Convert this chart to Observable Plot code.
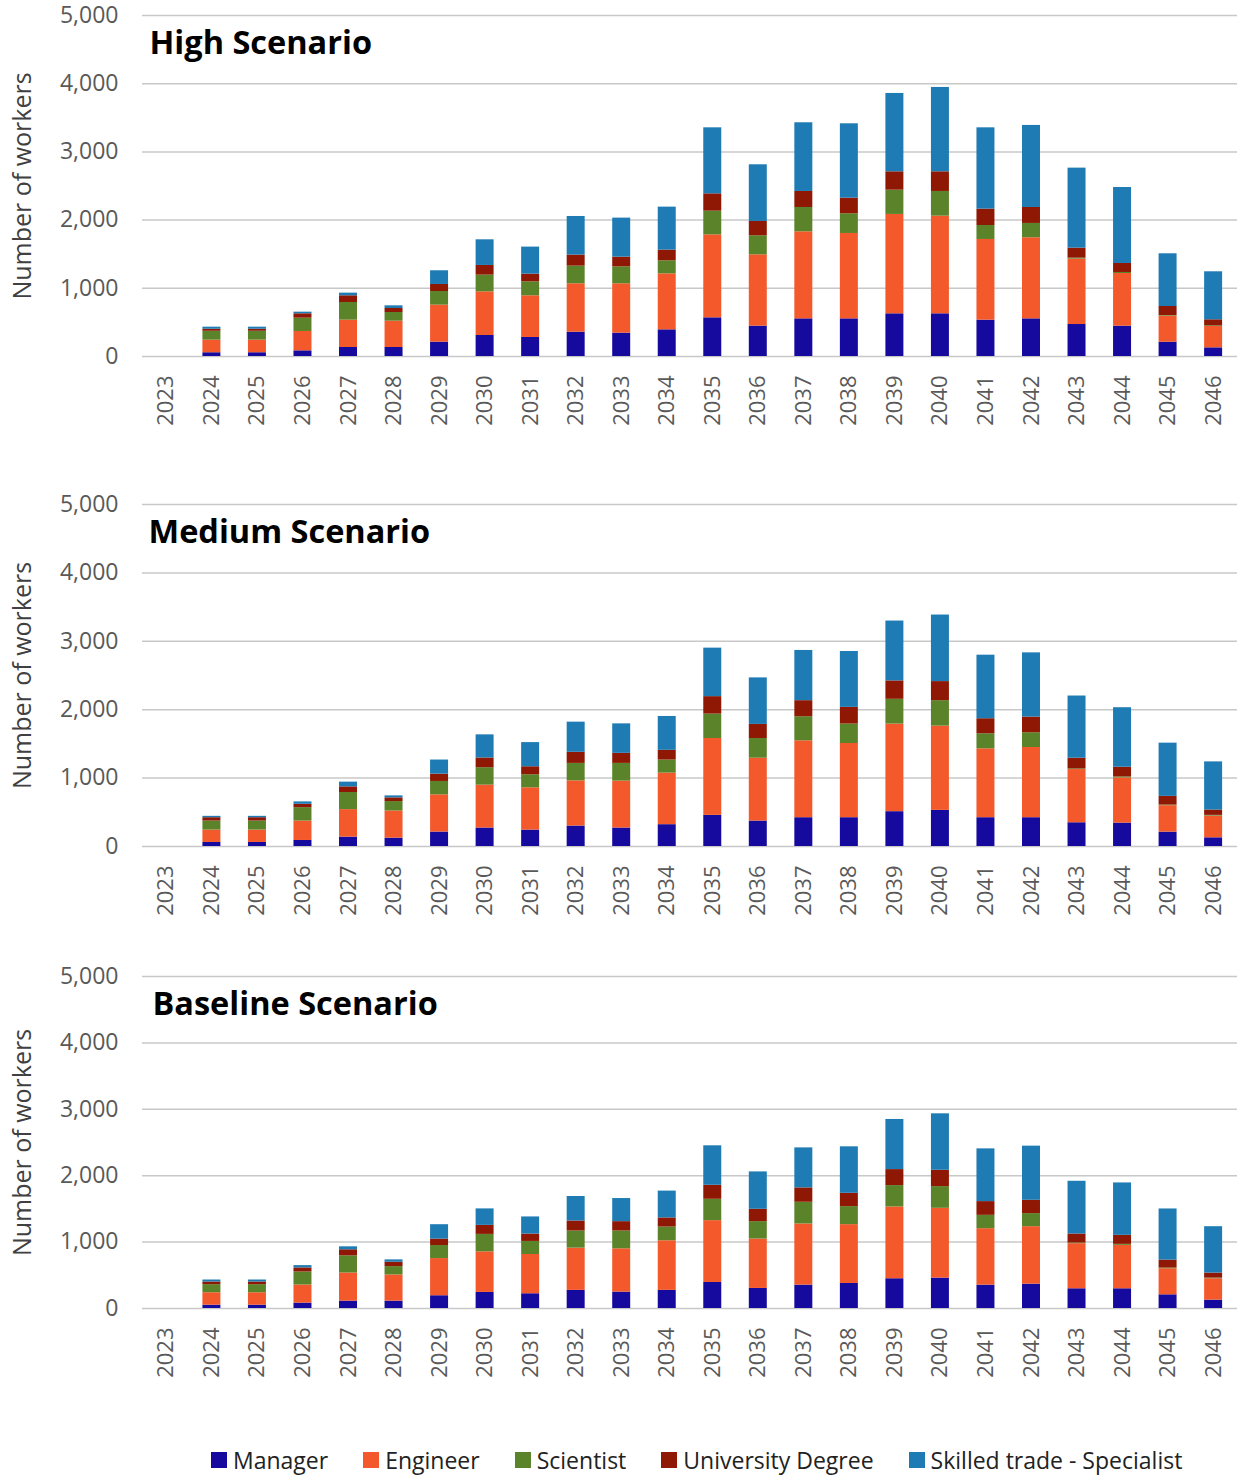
<!DOCTYPE html>
<html>
<head>
<meta charset="utf-8">
<script src="https://cdn.jsdelivr.net/npm/d3@7"></script>
<script src="https://cdn.jsdelivr.net/npm/@observablehq/plot@0.6"></script>
<style>
  body { margin: 0; background: #fff; font-family: "Open Sans", sans-serif; }
  #chart { width: 1244px; }
  #chart svg { display: block; }
  .legend { display: flex; align-items: center; gap: 35px; padding-left: 211px; margin-top: 15px; height: 30px; font-size: 23px; color: #222; }
  .legend .item { display: flex; align-items: center; }
  .legend .sw { width: 16px; height: 16px; margin-right: 6px; display: inline-block; }
</style>
</head>
<body>
<div id="chart"></div>
<script>
const years = ["2023","2024","2025","2026","2027","2028","2029","2030","2031","2032","2033","2034",
               "2035","2036","2037","2038","2039","2040","2041","2042","2043","2044","2045","2046"];
const roles = ["Manager", "Engineer", "Scientist", "University Degree", "Skilled trade - Specialist"];
const colors = ["#15099e", "#f4592b", "#5b8329", "#8e1804", "#1e7bb3"];
const yTicks = [0, 1000, 2000, 3000, 4000, 5000];

// High Scenario
const highManager    = [0, 55, 55, 83, 132, 132, 210, 308, 279, 357, 342, 391, 567, 445, 552, 552, 626, 626, 533, 552, 469, 445, 210, 127];
const highEngineer   = [0, 185, 185, 284, 401, 386, 543, 640, 611, 709, 724, 821, 1217, 1046, 1276, 1252, 1457, 1432, 1183, 1189, 959, 772, 382, 313];
const highScientist  = [0, 130, 130, 195, 259, 127, 200, 245, 205, 259, 249, 191, 347, 279, 357, 288, 356, 362, 205, 210, 14, 15, 9, 10];
const highUniversity = [0, 30, 30, 64, 98, 59, 103, 142, 113, 162, 142, 157, 254, 210, 235, 230, 269, 288, 240, 234, 147, 132, 132, 88];
const highSkilled    = [0, 30, 30, 24, 39, 39, 201, 376, 396, 566, 572, 630, 968, 831, 1007, 1090, 1149, 1237, 1192, 1203, 1173, 1114, 773, 704];

// Medium Scenario
const medManager    = [0, 59, 59, 88, 137, 122, 211, 270, 240, 299, 270, 319, 455, 372, 421, 421, 509, 528, 421, 421, 347, 342, 210, 127];
const medEngineer   = [0, 181, 181, 284, 402, 397, 544, 627, 618, 661, 686, 754, 1124, 919, 1124, 1085, 1281, 1232, 1007, 1026, 778, 660, 387, 318];
const medScientist  = [0, 132, 132, 196, 250, 138, 196, 255, 191, 255, 259, 191, 357, 288, 352, 284, 362, 372, 220, 216, 10, 15, 9, 10];
const medUniversity = [0, 49, 49, 49, 83, 54, 107, 142, 117, 162, 147, 142, 255, 206, 235, 244, 269, 279, 220, 229, 156, 142, 127, 78];
const medSkilled    = [0, 20, 20, 35, 69, 29, 206, 338, 353, 441, 431, 495, 709, 680, 734, 817, 875, 973, 929, 939, 909, 870, 778, 704];

// Baseline Scenario
const baseManager    = [0, 50, 50, 81, 111, 111, 192, 242, 222, 273, 247, 273, 392, 302, 352, 377, 448, 458, 352, 367, 297, 297, 206, 126];
const baseEngineer   = [0, 187, 187, 273, 424, 394, 560, 611, 591, 636, 652, 747, 931, 744, 921, 886, 1081, 1051, 850, 865, 679, 654, 393, 322];
const baseScientist  = [0, 122, 122, 196, 258, 126, 197, 263, 197, 258, 268, 207, 322, 262, 327, 271, 322, 327, 201, 197, 10, 15, 10, 10];
const baseUniversity = [0, 40, 40, 61, 91, 66, 96, 136, 111, 151, 141, 137, 211, 186, 216, 201, 241, 246, 207, 201, 136, 136, 120, 75];
const baseSkilled    = [0, 30, 30, 35, 45, 35, 217, 248, 258, 369, 348, 404, 594, 563, 603, 700, 755, 850, 794, 815, 794, 789, 770, 699];

function panel(title, series, height, top, bottom, titleDx) {
  const rows = [];
  years.forEach((yr, i) => roles.forEach((r, j) => rows.push({year: yr, role: r, value: series[j][i]})));
  return Plot.plot({
    width: 1244, height, marginLeft: 142, marginRight: 7, marginTop: top, marginBottom: bottom,
    style: {fontFamily: "'Open Sans', sans-serif", fontSize: "22px", color: "#595959", background: "#fff", overflow: "visible"},
    x: {type: "band", domain: years, paddingInner: 0.605, paddingOuter: 0.327, round: false, label: null},
    y: {domain: [0, 5000], label: null},
    color: {domain: roles, range: colors},
    marks: [
      Plot.gridY(yTicks, {stroke: "#c8c8c8", strokeOpacity: 1, strokeWidth: 1.5}),
      Plot.barY(rows, {x: "year", y: "value", fill: "role"}),
      Plot.axisY(yTicks, {tickSize: 0, tickPadding: 24, tickFormat: d3.format(","), fontSize: 23, fill: "#595959"}),
      Plot.axisX(years, {tickSize: 0, tickRotate: -90, tickPadding: 19, fontSize: 22, fill: "#595959"}),
      Plot.text([title], {frameAnchor: "top-left", dx: titleDx, dy: 28, text: d => d, fontWeight: "bold", fontSize: 32.5, fill: "#000", textAnchor: "start", lineAnchor: "middle"}),
      Plot.text(["Number of workers"], {frameAnchor: "left", dx: -120, text: d => d, rotate: -90, fontSize: 25, fill: "#404040", textAnchor: "middle", lineAnchor: "middle"})
    ]
  });
}

const chart = document.getElementById("chart");
chart.appendChild(panel("High Scenario", [highManager, highEngineer, highScientist, highUniversity, highSkilled], 490, 15, 134, 7));
chart.appendChild(panel("Medium Scenario", [medManager, medEngineer, medScientist, medUniversity, medSkilled], 470, 14, 114, 6));
chart.appendChild(panel("Baseline Scenario", [baseManager, baseEngineer, baseScientist, baseUniversity, baseSkilled], 470, 16, 122, 10));

const legend = document.createElement("div");
legend.className = "legend";
roles.forEach((r, i) => {
  const item = document.createElement("div");
  item.className = "item";
  const sw = document.createElement("span");
  sw.className = "sw";
  sw.style.background = colors[i];
  const label = document.createElement("span");
  label.textContent = r;
  item.appendChild(sw);
  item.appendChild(label);
  legend.appendChild(item);
});
chart.appendChild(legend);
</script>
</body>
</html>
